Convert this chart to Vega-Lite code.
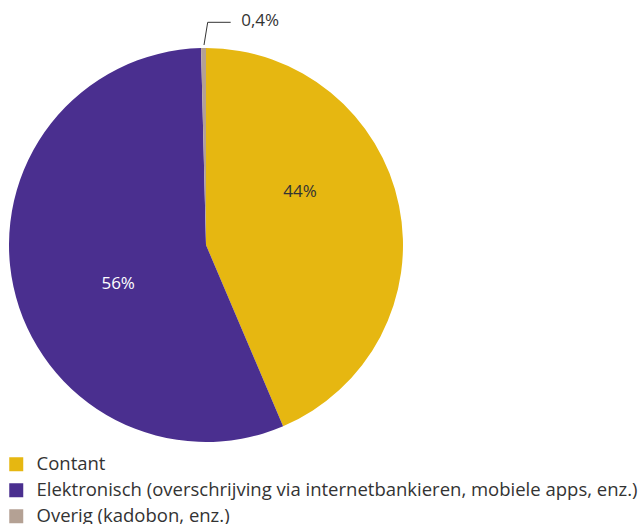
{
  "$schema": "https://vega.github.io/schema/vega-lite/v6.json",
  "width": 412,
  "height": 490,
  "padding": 0,
  "autosize": {"type": "pad"},
  "background": "white",
  "config": {"view": {"stroke": null}, "font": "Open Sans"},
  "datasets": {
    "verdeling": [
      {"categorie": "Contant", "aandeel": 43.6, "label": "44%", "volgorde": 1},
      {"categorie": "Elektronisch (overschrijving via internetbankieren, mobiele apps, enz.)", "aandeel": 56.0, "label": "56%", "volgorde": 2},
      {"categorie": "Overig (kadobon, enz.)", "aandeel": 0.4, "label": "0,4%", "volgorde": 3}
    ],
    "lijn": [
      {"px": -2, "py": 200, "i": 1},
      {"px": 1.7, "py": 222.7, "i": 2},
      {"px": 24.7, "py": 222.7, "i": 3}
    ]
  },
  "layer": [
    {
      "data": {"name": "verdeling"},
      "mark": {"type": "arc", "radius": 197},
      "encoding": {
        "theta": {"field": "aandeel", "type": "quantitative", "stack": true},
        "order": {"field": "volgorde", "type": "quantitative"},
        "color": {
          "field": "categorie",
          "type": "nominal",
          "sort": null,
          "scale": {
            "domain": ["Contant", "Elektronisch (overschrijving via internetbankieren, mobiele apps, enz.)", "Overig (kadobon, enz.)"],
            "range": ["#E6B711", "#4A2F8F", "#B4A194"]
          },
          "legend": {
            "title": null,
            "orient": "none",
            "legendX": 7,
            "legendY": 455,
            "symbolType": "square",
            "symbolSize": 196,
            "symbolStrokeWidth": 0,
            "labelFontSize": 18.5,
            "labelFont": "Open Sans",
            "labelColor": "#333333",
            "labelLimit": 700,
            "rowPadding": 7,
            "labelOffset": 11,
            "padding": 0
          }
        }
      }
    },
    {
      "data": {"name": "verdeling"},
      "mark": {"type": "text", "radius": 100, "dx": -4, "dy": -33, "fontSize": 17, "color": "#333333"},
      "encoding": {
        "theta": {"field": "aandeel", "type": "quantitative", "stack": true},
        "order": {"field": "volgorde", "type": "quantitative"},
        "text": {"condition": {"test": "datum.volgorde == 1", "field": "label"}, "value": ""}
      }
    },
    {
      "data": {"name": "verdeling"},
      "mark": {"type": "text", "radius": 95, "dx": 5, "dy": 19, "fontSize": 17, "color": "#ffffff"},
      "encoding": {
        "theta": {"field": "aandeel", "type": "quantitative", "stack": true},
        "order": {"field": "volgorde", "type": "quantitative"},
        "text": {"condition": {"test": "datum.volgorde == 2", "field": "label"}, "value": ""}
      }
    },
    {
      "data": {"name": "verdeling"},
      "mark": {"type": "text", "radius": 224, "dx": 57, "dy": 0, "fontSize": 17, "color": "#333333"},
      "encoding": {
        "theta": {"field": "aandeel", "type": "quantitative", "stack": true},
        "order": {"field": "volgorde", "type": "quantitative"},
        "text": {"condition": {"test": "datum.volgorde == 3", "field": "label"}, "value": ""}
      }
    },
    {
      "data": {"name": "lijn"},
      "mark": {"type": "line", "color": "#333333", "strokeWidth": 1},
      "encoding": {
        "x": {"field": "px", "type": "quantitative", "axis": null, "scale": {"domain": [-206, 206], "nice": false, "zero": false}},
        "y": {"field": "py", "type": "quantitative", "axis": null, "scale": {"domain": [-245, 245], "nice": false, "zero": false}},
        "order": {"field": "i", "type": "quantitative"}
      }
    }
  ]
}
